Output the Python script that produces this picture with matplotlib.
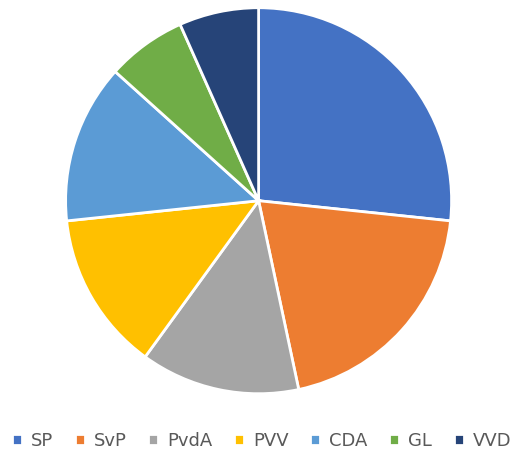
import matplotlib.pyplot as plt

parties = ['SP', 'SvP', 'PvdA', 'PVV', 'CDA', 'GL', 'VVD']
seats = [4, 3, 2, 2, 2, 1, 1]
colors = ['#4472C4', '#ED7D31', '#A5A5A5', '#FFC000', '#5B9BD5', '#70AD47', '#264478']

fig = plt.figure(figsize=(5.23, 4.57), dpi=100)
ax = fig.add_axes([0.0, 0.13, 1.0, 0.87])
wedges, _ = ax.pie(seats, colors=colors, startangle=90, counterclock=False,
                   radius=1.0, wedgeprops=dict(edgecolor='white', linewidth=2))
ax.set_aspect('equal')
ax.set_xlim(-1.34, 1.37)
ax.set_ylim(-1.02, 1.04)

fig.legend(wedges, parties, loc='lower center', bbox_to_anchor=(0.5, -0.02),
           ncol=7, frameon=False, fontsize=13, handlelength=0.55, handleheight=0.55,
           handletextpad=0.5, columnspacing=1.2, labelcolor='#595959')
fig.savefig('out.png', dpi=100)
